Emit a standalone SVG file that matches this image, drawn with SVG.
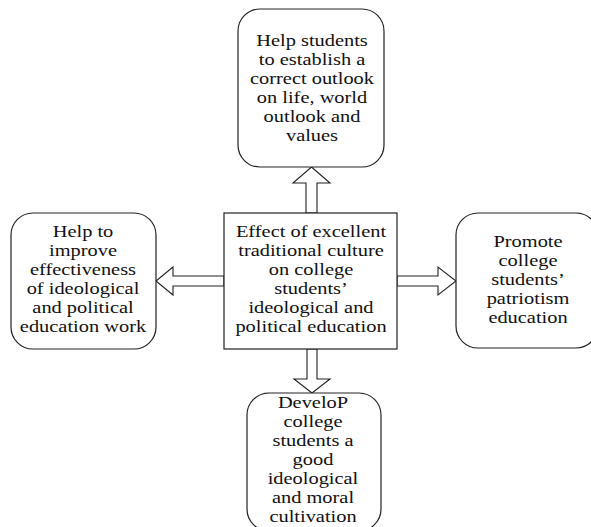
<svg xmlns="http://www.w3.org/2000/svg" width="591" height="527" viewBox="0 0 591 527">
<style>
.box{fill:#fff;stroke:#222;stroke-width:1.2}
.arr{fill:#fff;stroke:#222;stroke-width:1.1;stroke-linejoin:miter}
text{font-family:"Liberation Serif","Times New Roman",serif;font-size:17px;fill:#111;text-anchor:middle}
</style>
<rect width="591" height="527" fill="#fff"/>
<g id="connectors">
<polygon class="arr" points="306,213 306,183 293,183 311.5,167 330,183 317,183 317,213"/>
<polygon class="arr" points="307,349 307,379 294,379 312,393 330,379 317,379 317,349"/>
<polygon class="arr" points="224,276 173,276 173,267 156,281 173,295 173,286 224,286"/>
<polygon class="arr" points="397,276 438,276 438,267 456,281 438,295 438,286 397,286"/>
</g>
<g id="center">
<rect class="box" x="224" y="213" width="173" height="136"/>
<g transform="translate(311,0) scale(1.2,1)">
<text x="0" y="237">Effect of excellent</text>
<text x="0" y="256">traditional culture</text>
<text x="0" y="275">on college</text>
<text x="0" y="294">students’</text>
<text x="0" y="313">ideological and</text>
<text x="0" y="332">political education</text>
</g>
</g>
<g id="top">
<rect class="box" x="238" y="9" width="146" height="158" rx="22"/>
<g transform="translate(312,0) scale(1.2,1)">
<text x="0" y="46">Help students</text>
<text x="0" y="65">to establish a</text>
<text x="0" y="84">correct outlook</text>
<text x="0" y="103">on life, world</text>
<text x="0" y="122">outlook and</text>
<text x="0" y="141">values</text>
</g>
</g>
<g id="left">
<rect class="box" x="11" y="213" width="145" height="136" rx="22"/>
<g transform="translate(83,0) scale(1.2,1)">
<text x="0" y="237">Help to</text>
<text x="0" y="256">improve</text>
<text x="0" y="275">effectiveness</text>
<text x="0" y="294">of ideological</text>
<text x="0" y="313">and political</text>
<text x="0" y="332">education work</text>
</g>
</g>
<g id="right">
<rect class="box" x="456" y="213" width="142" height="135" rx="22"/>
<g transform="translate(528,0) scale(1.2,1)">
<text x="0" y="247">Promote</text>
<text x="0" y="266">college</text>
<text x="0" y="285">students’</text>
<text x="0" y="304">patriotism</text>
<text x="0" y="323">education</text>
</g>
</g>
<g id="bottom">
<rect class="box" x="247" y="393" width="134" height="138" rx="22"/>
<g transform="translate(313,0) scale(1.2,1)">
<text x="0" y="408">DeveloP</text>
<text x="0" y="427">college</text>
<text x="0" y="446">students a</text>
<text x="0" y="465">good</text>
<text x="0" y="484">ideological</text>
<text x="0" y="503">and moral</text>
<text x="0" y="522">cultivation</text>
</g>
</g>
</svg>
